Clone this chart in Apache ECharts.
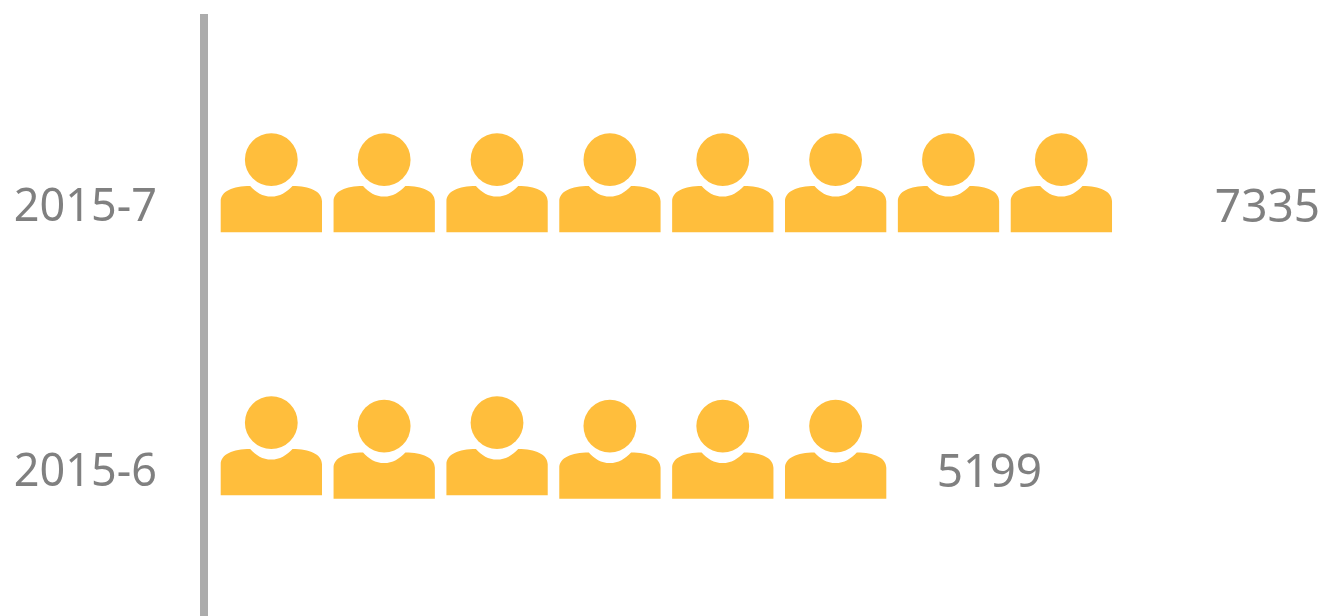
<!DOCTYPE html>
<html>
<head>
<meta charset="utf-8">
<title>Monthly count</title>
<style>
  html, body { margin: 0; padding: 0; background: #fff; }
  #chart { width: 1330px; height: 616px; }
</style>
<script src="https://cdn.jsdelivr.net/npm/echarts@6/dist/echarts.min.js"></script>
</head>
<body>
<div id="chart"></div>
<script>
const categories = ["2015-7", "2015-6"];
const values = [7335, 5199];
// one icon stands for this many
const iconUnit = 867;

const textColor = "#808080";
const iconColor = "#ffbe3c";
const fontFamily = "'Noto Sans', sans-serif";

// body of the person icon, 101 x 99, head is drawn separately
const bodyPath =
  "M0 99 L0 68 C0 58 12 52.7 29.5 52.7 C35 59 42 63.3 50.6 63.3 C59 63.3 66 59 71.8 52.7 C89 52.7 101.3 58 101.3 68 L101.3 99 Z";

// the second row is caught mid bounce: icons sit at slightly different heights
const iconShift = [
  [-74.7, -74.7, -74.7, -74.7, -74.7, -74.7, -74.7, -74.7],
  [-76.7, -73.3, -76.7, -73.3, -73.3, -73.3],
];

function renderRow(params, api) {
  const row = api.value(1);
  const value = api.value(0);
  const count = Math.round(value / iconUnit);
  const children = [];
  for (let i = 0; i < count; i++) {
    const pt = api.coord([iconUnit * i, row]);
    const x = pt[0] + 16.7;
    const y = pt[1] + iconShift[row][i];
    children.push({
      type: "circle",
      shape: { cx: x + 50.6, cy: y + 26.4, r: 26.4 },
      style: { fill: iconColor },
    });
    children.push({
      type: "path",
      shape: { pathData: bodyPath, x: x, y: y + 52.7, width: 101.3, height: 46.3 },
      style: { fill: iconColor },
    });
  }
  const end = api.coord([value, row]);
  children.push({
    type: "text",
    style: {
      x: end[0] + 56,
      y: end[1] + 1,
      text: String(value),
      fill: textColor,
      font: "46px " + fontFamily,
      textAlign: "left",
      textVerticalAlign: "middle",
    },
  });
  return { type: "group", children };
}

const chart = echarts.init(document.getElementById("chart"));
chart.setOption({
  animation: false,
  backgroundColor: "#fff",
  grid: [
    { left: 204, right: 0, top: 75.5, height: 530 },
    { left: 204, right: 0, top: 14, bottom: 0 },
  ],
  xAxis: [
    { gridIndex: 0, type: "value", min: 0, max: 8650, show: false },
    { gridIndex: 1, type: "value", show: false },
  ],
  yAxis: [
    {
      gridIndex: 0,
      type: "category",
      inverse: true,
      data: categories,
      axisLine: { show: false },
      axisTick: { show: false },
      axisLabel: {
        margin: 47,
        color: textColor,
        fontSize: 45,
        fontFamily: fontFamily,
      },
    },
    {
      gridIndex: 1,
      type: "value",
      axisLine: {
        show: true,
        onZero: false,
        lineStyle: { color: "#acacac", width: 8, cap: "butt" },
      },
      axisTick: { show: false },
      axisLabel: { show: false },
      splitLine: { show: false },
    },
  ],
  series: [
    {
      type: "custom",
      xAxisIndex: 0,
      yAxisIndex: 0,
      renderItem: renderRow,
      encode: { x: 0, y: 1 },
      data: values.map((v, i) => [v, i]),
    },
  ],
});
</script>
</body>
</html>
